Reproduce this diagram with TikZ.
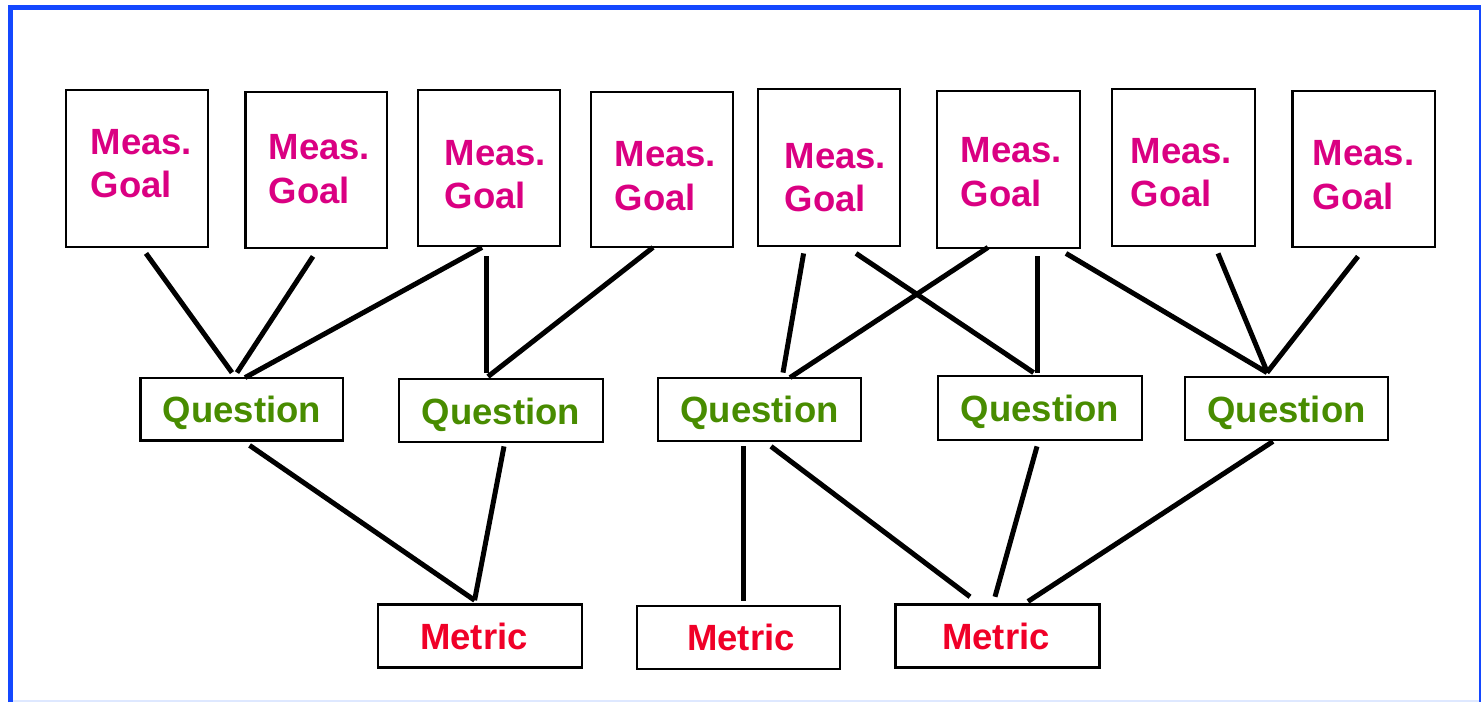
\documentclass[tikz,border=0pt]{standalone}
\usepackage{fontspec}
\setmainfont{Liberation Sans}
\definecolor{goalc}{RGB}{218,0,130}
\definecolor{questc}{RGB}{72,140,0}
\definecolor{metc}{RGB}{240,0,40}
\definecolor{framec}{RGB}{20,72,255}
\definecolor{framelight}{RGB}{222,232,255}
\tikzset{
  box/.style={draw=black, line width=2.8pt, fill=white, inner sep=0pt, rectangle},
  gtext/.style={text=goalc, font=\fontsize{36.5pt}{43.5pt}\selectfont\bfseries, align=left, inner sep=0pt, anchor=west},
  qtext/.style={text=questc, font=\fontsize{36.5pt}{43pt}\selectfont\bfseries, inner sep=0pt},
  mtext/.style={text=metc, font=\fontsize{36.5pt}{43pt}\selectfont\bfseries, inner sep=0pt},
  link/.style={draw=black, line width=5pt},
}
\begin{document}
\begin{tikzpicture}[x=1pt,y=-1pt]
\useasboundingbox (0,0) rectangle (1481,702);
% frame
\draw[framelight, line width=1.5pt] (10,701) -- (1480,701);
\draw[framec, line width=1.5pt] (1480,7.5) -- (1480,702);
\draw[framec, line width=5pt] (10.3,702) -- (10.3,7.5);
\draw[framec, line width=5pt] (8,7.5) -- (1481,7.5);

% goal boxes
\node[box, minimum width=142pt, minimum height=157pt] (G1) at (137,168.5) {};
\node[box, minimum width=141.3pt, minimum height=156pt] (G2) at (316.35,170) {};
\node[box, minimum width=142pt, minimum height=156pt] (G3) at (489,168) {};
\node[box, minimum width=142pt, minimum height=155pt] (G4) at (662,169.5) {};
\node[box, minimum width=142pt, minimum height=157pt] (G5) at (829,167.5) {};
\node[box, minimum width=143pt, minimum height=157pt] (G6) at (1008.5,169.5) {};
\node[box, minimum width=143pt, minimum height=157pt] (G7) at (1183.5,167.5) {};
\node[box, minimum width=142.5pt, minimum height=156pt] (G8) at (1363.75,169) {};

\node[gtext] (G1t) at (90.5,163.5) {Meas.\\Goal};
\node[gtext] (G2t) at (268.5,169) {Meas.\\Goal};
\node[gtext] (G3t) at (444.5,174.5) {Meas.\\Goal};
\node[gtext] (G4t) at (614.5,176) {Meas.\\Goal};
\node[gtext] (G5t) at (784.5,177.5) {Meas.\\Goal};
\node[gtext] (G6t) at (960.5,172) {Meas.\\Goal};
\node[gtext] (G7t) at (1130.5,172.5) {Meas.\\Goal};
\node[gtext] (G8t) at (1312.5,175) {Meas.\\Goal};

% question boxes
\node[box, minimum width=202.3pt, minimum height=62.7pt] (Q1) at (241.85,409.35) {};
\node[box, minimum width=204pt, minimum height=63pt] (Q2) at (501,410.5) {};
\node[box, minimum width=203pt, minimum height=63pt] (Q3) at (759.5,409.5) {};
\node[box, minimum width=204pt, minimum height=64pt] (Q4) at (1040,408) {};
\node[box, minimum width=203pt, minimum height=63pt] (Q5) at (1286.5,408.5) {};
\node[qtext] (Q1t) at ([yshift=-3.5pt]Q1.center) {Question};
\node[qtext] (Q2t) at ([yshift=-4pt]Q2.center) {Question};
\node[qtext] (Q3t) at ([yshift=-3.5pt]Q3.center) {Question};
\node[qtext] (Q4t) at ([yshift=-3.5pt]Q4.center) {Question};
\node[qtext] (Q5t) at ([yshift=-4pt]Q5.center) {Question};

% metric boxes
\node[box, minimum width=204pt, minimum height=63.7pt] (M1) at (480,636) {};
\node[box, minimum width=203pt, minimum height=63pt] (M2) at (738.5,637.5) {};
\node[box, minimum width=204pt, minimum height=63.7pt] (M3) at (997.5,636) {};
\node[mtext] (M1t) at ([xshift=-6pt]M1.center) {Metric};
\node[mtext] (M2t) at ([xshift=2.5pt]M2.center) {Metric};
\node[mtext] (M3t) at ([xshift=-1.5pt]M3.center) {Metric};

% connectors goal -> question
\draw[link] ([shift={(9,5)}]G1.south) -- ([shift={(-9.85,-4)}]Q1.north);
\draw[link] ([shift={(-3.35,7)}]G2.south) -- ([shift={(-4.85,-4)}]Q1.north);
\draw[link] ([shift={(-7,0)}]G3.south) -- ([shift={(3.15,1)}]Q1.north);
\draw[link] ([shift={(-3,9)}]G3.south) -- ([shift={(-15,-5)}]Q2.north);
\draw[link] ([shift={(-9,-1)}]G4.south) -- ([shift={(-13,-1)}]Q2.north);
\draw[link] ([shift={(-25.4,6)}]G5.south) -- ([shift={(23.5,-4)}]Q3.north);
\draw[link] ([shift={(27,6)}]G5.south) -- ([shift={(-6.4,-2)}]Q4.north);
\draw[link] ([shift={(-20.5,-2)}]G6.south) -- ([shift={(30.5,1)}]Q3.north);
\draw[link] ([shift={(28.5,7)}]G6.south) -- ([shift={(-3,-2)}]Q4.north);
\draw[link] ([shift={(57.5,4)}]G6.south) -- ([shift={(-19.5,-3)}]Q5.north);
\draw[link] ([shift={(34.5,6)}]G7.south) -- ([shift={(-19.5,-4)}]Q5.north);
\draw[link] ([shift={(-5.75,8)}]G8.south) -- ([shift={(-19.5,-3)}]Q5.north);

% connectors question -> metric
\draw[link] ([shift={(7.75,3.3)}]Q1.south) -- ([shift={(-5.4,-2.5)}]M1.north);
\draw[link] ([shift={(3,3)}]Q2.south) -- ([shift={(-5.4,-2.5)}]M1.north);
\draw[link] ([shift={(-16.5,4)}]Q3.south) -- ([shift={(4.5,-4)}]M2.north);
\draw[link] ([shift={(11.5,4)}]Q3.south) -- ([shift={(-27.5,-6)}]M3.north);
\draw[link] ([shift={(-3,5)}]Q4.south) -- ([shift={(-2.5,-6)}]M3.north);
\draw[link] ([shift={(-13.5,0)}]Q5.south) -- ([shift={(30.5,-1.3)}]M3.north);
\end{tikzpicture}
\end{document}
